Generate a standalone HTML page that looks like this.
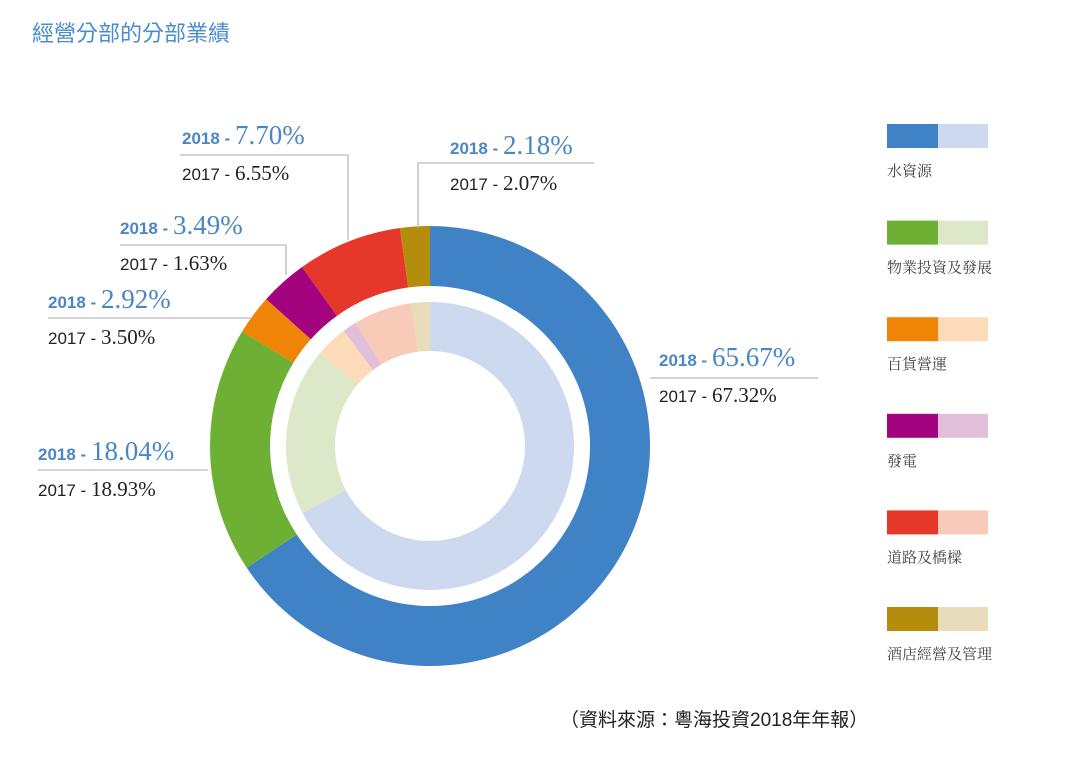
<!DOCTYPE html>
<html><head><meta charset="utf-8"><style>
body{margin:0;background:#fff;}
svg{display:block;}
.s{font-family:"Liberation Sans","Noto Sans CJK TC",sans-serif;}
.r{font-family:"Liberation Serif","Noto Serif CJK SC",serif;}
</style></head><body>
<svg width="1070" height="778" viewBox="0 0 1070 778">
<text x="32" y="41" class="s" font-size="22" fill="#4a8ccc">經營分部的分部業績</text>
<g id="rings"></g>
<g id="leaders" stroke="#bbb" stroke-width="1.3" fill="none">
<polyline points="180,155 348,155 348,240"/>
<polyline points="418,228 418,163 594,163"/>
<polyline points="120,245 286,245 286,275"/>
<polyline points="48,318 252,318"/>
<polyline points="38,470 208,470"/>
<polyline points="650,378 818,378"/>
</g>
<g id="labels"></g>
<g id="legend"></g>
<text x="560" y="726" class="s" font-size="19" fill="#222" font-family="Liberation Serif, Noto Serif CJK SC, serif">（資料來源：粵海投資2018年年報）</text>
</svg>
<script>
const categories=["水資源","物業投資及發展","百貨營運","發電","道路及橋樑","酒店經營及管理"];
const values2018=[65.67,18.04,2.92,3.49,7.70,2.18];
const values2017=[67.32,18.93,3.50,1.63,6.55,2.07];
const darkColors=["#3f83c6","#6db033","#ef8407","#a4037f","#e5382b","#b58d0c"];
const lightColors=["#cdd9ef","#dce8c8","#fddbb8","#e1bfd9","#f8cbb8","#e9dcbb"];
const labelPos=[[659,366],[38,460],[48,308],[120,234],[182,144],[450,154]];
const NS="http://www.w3.org/2000/svg";
const cx=430,cy=446;
function arc(r0,r1,a0,a1){
  const p=(r,a)=>[cx+r*Math.sin(a),cy-r*Math.cos(a)];
  const big=(a1-a0)>Math.PI?1:0;
  const [x0,y0]=p(r1,a0),[x1,y1]=p(r1,a1),[x2,y2]=p(r0,a1),[x3,y3]=p(r0,a0);
  return `M${x0},${y0}A${r1},${r1} 0 ${big} 1 ${x1},${y1}L${x2},${y2}A${r0},${r0} 0 ${big} 0 ${x3},${y3}Z`;
}
const rings=document.getElementById('rings');
function ring(vals,cols,r0,r1,name){
  const tot=vals.reduce((a,b)=>a+b,0);let acc=0;
  vals.forEach((v,i)=>{
    const a0=acc/tot*2*Math.PI;acc+=v;const a1=acc/tot*2*Math.PI;
    const el=document.createElementNS(NS,'path');
    el.setAttribute('d',arc(r0,r1,a0,a1));el.setAttribute('fill',cols[i]);
    
    
    rings.appendChild(el);
  });
}
ring(values2018,darkColors,160,220,'outer-2018');
ring(values2017,lightColors,95,144,'inner-2017');
const labels=document.getElementById('labels');
labelPos.forEach((p,i)=>{
  const t1=document.createElementNS(NS,'text');
  t1.setAttribute('x',p[0]);t1.setAttribute('y',p[1]);t1.setAttribute('fill','#4a86c5');
  t1.innerHTML=`<tspan class="s" font-weight="bold" font-size="17">2018 - </tspan><tspan class="r" font-size="27">${values2018[i].toFixed(2)}%</tspan>`;
  
  
  labels.appendChild(t1);
  const t2=document.createElementNS(NS,'text');
  t2.setAttribute('x',p[0]);t2.setAttribute('y',p[1]+36);t2.setAttribute('fill','#222');
  t2.innerHTML=`<tspan class="s" font-size="17">2017 - </tspan><tspan class="r" font-size="21">${values2017[i].toFixed(2)}%</tspan>`;
  
  
  labels.appendChild(t2);
});
const legend=document.getElementById('legend');
categories.forEach((c,i)=>{
  const y=124+i*96.6;
  const g=document.createElementNS(NS,'g');
  
  
  g.innerHTML=`<rect x="887" y="${y}" width="51" height="24" fill="${darkColors[i]}"/><rect x="938" y="${y}" width="50" height="24" fill="${lightColors[i]}"/><text x="887" y="${y+52}" font-size="15" fill="#444" font-family="Liberation Serif, Noto Serif CJK SC, serif">${c}</text>`;
  legend.appendChild(g);
});
</script>
</body></html>
